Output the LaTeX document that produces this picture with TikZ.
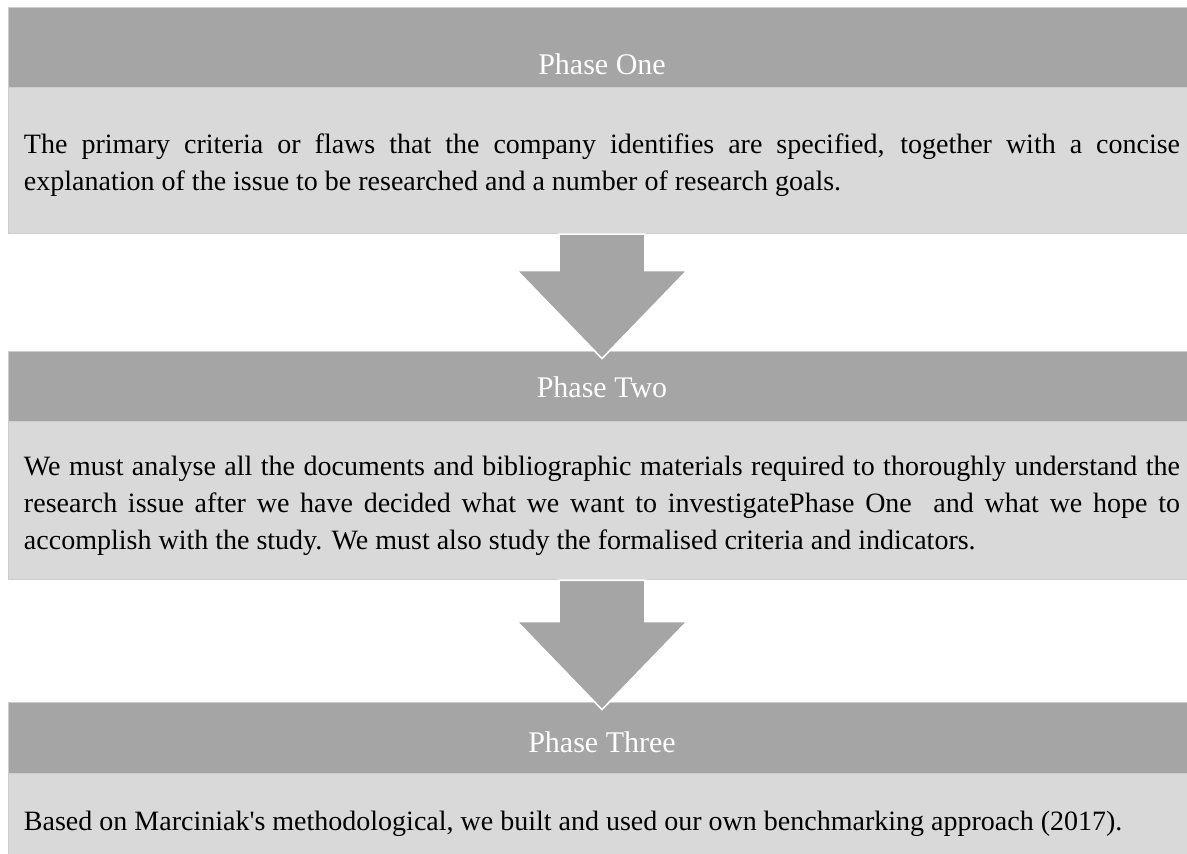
\documentclass[tikz,border=0pt]{standalone}
\usepackage{fontspec}
\setmainfont{Liberation Serif}
\usetikzlibrary{calc}
\definecolor{bandgrey}{HTML}{A5A5A5}
\definecolor{bodygrey}{HTML}{D9D9D9}
\definecolor{edgegrey}{HTML}{CDCDCD}
\def\phasearrow(#1)(#2){\draw[arrowblock] ($(#1.south)+(-43,0)$) -- ($(#1.south)+(43,0)$) -- ($(#2.north)+(43,-80)$) -- ($(#2.north)+(85,-80)$) -- ($(#2.north)+(0,8)$) -- ($(#2.north)+(-85,-80)$) -- ($(#2.north)+(-43,-80)$) -- cycle;}

\begin{document}
\begin{tikzpicture}[x=0.5pt, y=-0.5pt,
	band/.style={rectangle, fill=bandgrey, draw=edgegrey, line width=0.4pt, minimum width=594pt, inner sep=0pt},
	bandtitle/.style={inner sep=0pt, text=white, font=\fontsize{15}{18}\selectfont},
	body/.style={rectangle, fill=bodygrey, draw=edgegrey, line width=0.4pt, anchor=north, inner xsep=8pt, inner ysep=0pt, text width=578pt, align=justify, font=\fontsize{14}{18.5}\selectfont, execute at begin node={\rule{0pt}{14.6pt}}},
	arrowblock/.style={fill=bandgrey, draw=white, line width=0.8pt, line join=miter}]
	%%%%% START %%%%%
	
	\useasboundingbox (0, 0) rectangle (1187, 854);
	\clip (0, 0) rectangle (1187, 854);
	
	\node[band, minimum height=40pt] (band1) at (602, 47) {};
	\node[body, minimum height=73pt] (body1) at (band1.south) {The primary criteria or flaws that the company identifies are specified, together with a concise\linebreak explanation of the issue to be researched and a number of research goals.};
	\node[bandtitle] (title1) at (602, 64.6) {Phase One};
	
	\node[band, minimum height=35pt] (band2) at (602, 386) {};
	\node[body, minimum height=79pt] (body2) at (band2.south) {We must analyse all the documents and bibliographic materials required to thoroughly understand the\linebreak research issue after we have decided what we want to investigatePhase One\ \ and what we hope to\linebreak accomplish with the study. We must also study the formalised criteria and indicators.};
	\node[bandtitle] (title2) at (602, 387.5) {Phase Two};
	
	\node[band, minimum height=35.5pt] (band3) at (602, 737.5) {};
	\node[body, minimum height=45pt] (body3) at (band3.south) {Based on Marciniak\textquotesingle s methodological, we built and used our own benchmarking approach (2017).};
	\node[bandtitle] (title3) at (602, 742.5) {Phase Three};
	
	\phasearrow(body1)(band2)
	\phasearrow(body2)(band3)
	
	%%%%% END %%%%%
\end{tikzpicture}
\end{document}
